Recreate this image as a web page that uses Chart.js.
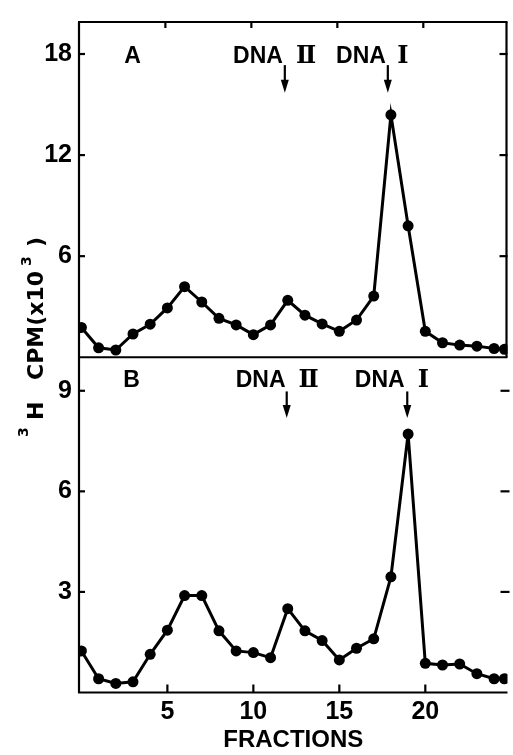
<!DOCTYPE html>
<html><head><meta charset="utf-8">
<script src="https://cdn.jsdelivr.net/npm/chart.js@4.4.0/dist/chart.umd.min.js"></script>
<style>html,body{margin:0;padding:0;background:#fff;}canvas{display:block;}</style>
</head><body>
<canvas id="c" width="513" height="755"></canvas>
<script>
// ---- data ----
const fractions = [0,1,2,3,4,5,6,7,8,9,10,11,12,13,14,15,16,17,18,19,20,21,22,23,24,24.6];
const cpmA = [1.77,0.56,0.43,1.38,1.96,2.93,4.19,3.28,2.31,1.92,1.34,1.92,3.38,2.50,1.98,1.54,2.21,3.63,14.39,7.80,1.54,0.86,0.72,0.66,0.52,0.47];
const cpmB = [1.24,0.41,0.27,0.32,1.14,1.86,2.89,2.89,1.84,1.24,1.19,1.04,2.50,1.84,1.55,0.97,1.32,1.60,3.45,7.71,0.87,0.82,0.85,0.56,0.41,0.41];
const xTickLabels = [5,10,15,20];
const yTicksA = [6,12,18];
const yTicksB = [3,6,9];
const panelLabels = ['A','B'];
const peakLabels = ['DNA','Ⅱ','DNA','Ⅰ'];
const xTitle = 'FRACTIONS';

// ---- layout / annotation placement (not data) ----
const FONT = '"Liberation Sans", Arial, sans-serif';
const TFONT = '"DejaVu Sans", sans-serif';
const annotations = [
  {axis:'yA', text:panelLabels[0], x:2.97, y:17.45},
  {axis:'yA', text:peakLabels[0], x:10.27, y:17.45},
  {axis:'yA', text:peakLabels[1], x:13.07, y:17.45, roman:true},
  {axis:'yA', text:peakLabels[2], x:16.26, y:17.45},
  {axis:'yA', text:peakLabels[3], x:18.70, y:17.45, roman:true},
  {axis:'yB', text:panelLabels[1], x:2.91, y:9.12},
  {axis:'yB', text:peakLabels[0], x:10.42, y:9.12},
  {axis:'yB', text:peakLabels[1], x:13.21, y:9.12, roman:true},
  {axis:'yB', text:peakLabels[2], x:17.35, y:9.12},
  {axis:'yB', text:peakLabels[3], x:19.88, y:9.12, roman:true}
];
const arrows = [
  {axis:'yA', x:11.83, from:17.34, to:15.70},
  {axis:'yA', x:17.82, from:17.34, to:15.70},
  {axis:'yB', x:11.94, from:8.98, to:8.19},
  {axis:'yB', x:18.95, from:8.98, to:8.19}
];
// y-axis title pieces: [text, start y px (text runs upward), baseline x px, font px]
const yTitlePieces = [
  ['3',437,28,14],['H',420,43,22],['CPM(x10',380,43,22],['3',266,31,14],[')',247,43,22]
];

const framePlugin = {
  id:'frame',
  afterDraw(chart){
    const ctx = chart.ctx;
    const x = chart.scales.x, yA = chart.scales.yA, yB = chart.scales.yB;
    const L = chart.chartArea.left, R = chart.chartArea.right;
    ctx.save();
    ctx.strokeStyle = '#000'; ctx.fillStyle = '#000'; ctx.lineWidth = 2.2; ctx.lineCap = 'butt';
    const line = (x1,y1,x2,y2)=>{ctx.beginPath();ctx.moveTo(x1,y1);ctx.lineTo(x2,y2);ctx.stroke();};
    // frame
    line(L, yA.top, L, yB.bottom);
    line(L-1, yB.bottom, R, yB.bottom);
    line(L-1, yA.top, R, yA.top);
    line(L-1, yA.bottom, R, yA.bottom);
    line(R-1, yA.top, R-1, yA.bottom);
    // ticks (inward)
    yTicksA.forEach(v=>{const p=yA.getPixelForValue(v); line(L,p,L+6,p); line(R-8,p,R,p);});
    yTicksB.forEach(v=>{const p=yB.getPixelForValue(v); line(L,p,L+6,p); line(R-7,p,R+2,p);});
    xTickLabels.forEach(v=>{const p=x.getPixelForValue(v); line(p,yB.bottom,p,yB.bottom-8); line(p-2,yA.top,p-2,yA.top+6);});
    // annotations
    ctx.textAlign='center'; ctx.textBaseline='alphabetic';
    annotations.forEach(a=>{
      const s = chart.scales[a.axis];
      ctx.font = a.roman ? 'bold 24px "DejaVu Serif", serif' : 'bold 23px '+FONT;
      ctx.fillText(a.text, x.getPixelForValue(a.x), s.getPixelForValue(a.y));
    });
    arrows.forEach(a=>{
      const s = chart.scales[a.axis];
      const px = x.getPixelForValue(a.x), y1 = s.getPixelForValue(a.from), y2 = s.getPixelForValue(a.to);
      ctx.lineWidth = 2.2; line(px,y1,px,y2-8);
      ctx.beginPath(); ctx.moveTo(px-4,y2-13); ctx.lineTo(px+4,y2-13); ctx.lineTo(px,y2); ctx.closePath(); ctx.fill();
    });
    // y title
    yTitlePieces.forEach(([t,sy,bx,fs])=>{
      ctx.save(); ctx.translate(bx,sy); ctx.rotate(-Math.PI/2);
      ctx.font = 'bold '+fs+'px '+TFONT; ctx.textAlign='left'; ctx.textBaseline='alphabetic';
      ctx.fillText(t,0,0); ctx.restore();
    });
    ctx.restore();
  }
};

const tickFont = {family:'"Liberation Sans", Arial, sans-serif', size:25, weight:'bold'};
const ds = (vals, yId)=>({
  data: fractions.map((f,i)=>({x:f, y:vals[i]})),
  xAxisID:'x', yAxisID:yId,
  borderColor:'#000', borderWidth:3, backgroundColor:'#000',
  pointRadius:5.5, pointBackgroundColor:'#000', pointBorderWidth:0, pointHoverRadius:5.5,
  tension:0, fill:false
});

new Chart(document.getElementById('c'), {
  type:'line',
  data:{ datasets:[ ds(cpmA,'yA'), ds(cpmB,'yB') ] },
  options:{
    responsive:false, animation:false, devicePixelRatio:1,
    layout:{padding:{top:8,right:1,left:0,bottom:0}},
    plugins:{legend:{display:false}, tooltip:{enabled:false}},
    scales:{
      x:{type:'linear', position:'bottom', min:-0.14, max:24.78,
         grid:{display:false, drawTicks:false}, border:{display:false},
         ticks:{font:tickFont, color:'#000', padding:5, maxRotation:0, autoSkip:false},
         afterBuildTicks:s=>{s.ticks = xTickLabels.map(v=>({value:v}));},
         afterFit:s=>{s.height = 62.5;},
         title:{display:true, text:xTitle, color:'#000', font:{family:'"Liberation Sans", Arial, sans-serif', size:24, weight:'bold'}, padding:{top:0,bottom:0}}
      },
      yB:{type:'linear', position:'left', stack:'panels', stackWeight:1, min:0, max:10,
         grid:{display:false, drawTicks:false}, border:{display:false},
         ticks:{font:tickFont, color:'#000', padding:7},
         afterBuildTicks:s=>{s.ticks = yTicksB.map(v=>({value:v}));},
         afterFit:s=>{s.width = 79;}
      },
      yA:{type:'linear', position:'left', stack:'panels', stackWeight:1, min:0, max:19.9,
         grid:{display:false, drawTicks:false}, border:{display:false},
         ticks:{font:tickFont, color:'#000', padding:7},
         afterBuildTicks:s=>{s.ticks = yTicksA.map(v=>({value:v}));},
         afterFit:s=>{s.width = 79;}
      }
    }
  },
  plugins:[framePlugin]
});
</script>
</body></html>
